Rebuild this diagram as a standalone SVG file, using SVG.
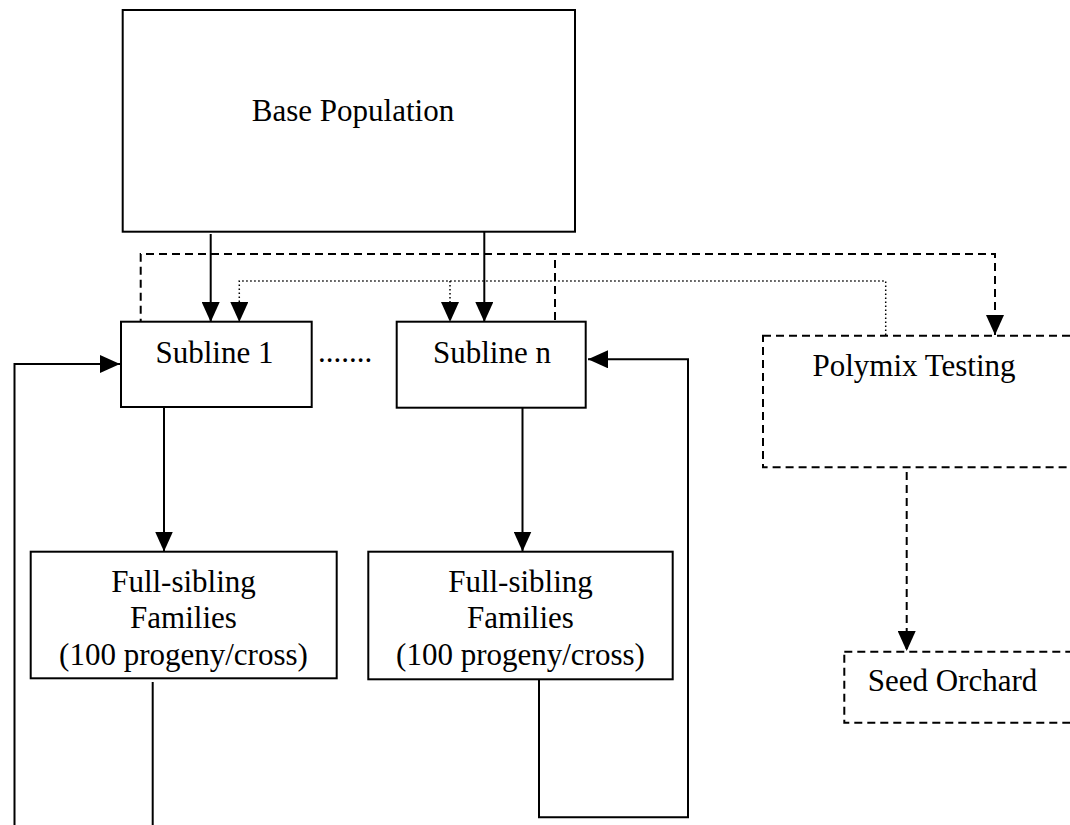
<svg xmlns="http://www.w3.org/2000/svg" width="1070" height="825" viewBox="0 0 1070 825">
<style>
text{font-family:"Liberation Serif","Times New Roman",serif;font-size:31px;fill:#000;text-anchor:middle}
.box{fill:#fff;stroke:#000;stroke-width:2}
.dbox{fill:#fff;stroke:#000;stroke-width:2;stroke-dasharray:8,5}
.solid{fill:none;stroke:#000;stroke-width:2}
.dash{fill:none;stroke:#000;stroke-width:2;stroke-dasharray:8,5}
.dot{fill:none;stroke:#000;stroke-width:1.5;stroke-dasharray:1.5,2.5}
</style>
<defs>
<marker id="ah" viewBox="0 0 20 18" refX="20" refY="9" markerWidth="20" markerHeight="18" markerUnits="userSpaceOnUse" orient="auto">
<path d="M0,0 L20,9 L0,18 z" fill="#000"/>
</marker>
</defs>
<g id="connectors">
<line class="solid" x1="210.7" y1="234" x2="210.7" y2="322" marker-end="url(#ah)"/>
<line class="solid" x1="484.3" y1="232" x2="484.3" y2="322" marker-end="url(#ah)"/>
<path class="dash" d="M140.7,326.7 V254 H995 V335" marker-end="url(#ah)"/>
<path class="dash" d="M555,320 V254"/>
<path class="dot" d="M885.7,335 V281 H239.3 V322" marker-end="url(#ah)"/>
<path class="dot" d="M450,281 V322" marker-end="url(#ah)"/>
<path class="solid" d="M14.5,830 V364 H120" marker-end="url(#ah)"/>
<line class="solid" x1="164" y1="408" x2="164" y2="551.5" marker-end="url(#ah)"/>
<line class="solid" x1="522.5" y1="408" x2="522.5" y2="551.5" marker-end="url(#ah)"/>
<line class="solid" x1="152.7" y1="682" x2="152.7" y2="830"/>
<path class="solid" d="M539,680 V817.3 H688 V359.3 H588" marker-end="url(#ah)"/>
<line class="dash" x1="906.7" y1="472" x2="906.7" y2="651" marker-end="url(#ah)"/>
</g>
<g id="base-population">
<rect class="box" x="122.7" y="10" width="452.3" height="221.7"/>
<text x="353" y="121">Base Population</text>
</g>
<g id="subline-1">
<rect class="box" x="121" y="321.7" width="190.7" height="85.3"/>
<text x="214.5" y="362.7">Subline 1</text>
</g>
<g id="ellipsis">
<text x="345" y="362">.......</text>
</g>
<g id="subline-n">
<rect class="box" x="396.7" y="321.7" width="189" height="86"/>
<text x="492" y="363">Subline n</text>
</g>
<g id="polymix-testing">
<rect class="dbox" x="763" y="335.7" width="320" height="131.6"/>
<text x="914" y="376">Polymix Testing</text>
</g>
<g id="full-sibling-1">
<rect class="box" x="30.7" y="551.7" width="306" height="126.6"/>
<text x="183.5" y="591.5">Full-sibling</text>
<text x="183.5" y="628">Families</text>
<text x="183.5" y="665">(100 progeny/cross)</text>
</g>
<g id="full-sibling-n">
<rect class="box" x="368.3" y="551.7" width="304.4" height="127.6"/>
<text x="520.5" y="591.5">Full-sibling</text>
<text x="520.5" y="628">Families</text>
<text x="520.5" y="665">(100 progeny/cross)</text>
</g>
<g id="seed-orchard">
<rect class="dbox" x="844.3" y="651.7" width="240" height="71"/>
<text x="952.5" y="690.7">Seed Orchard</text>
</g>
</svg>
